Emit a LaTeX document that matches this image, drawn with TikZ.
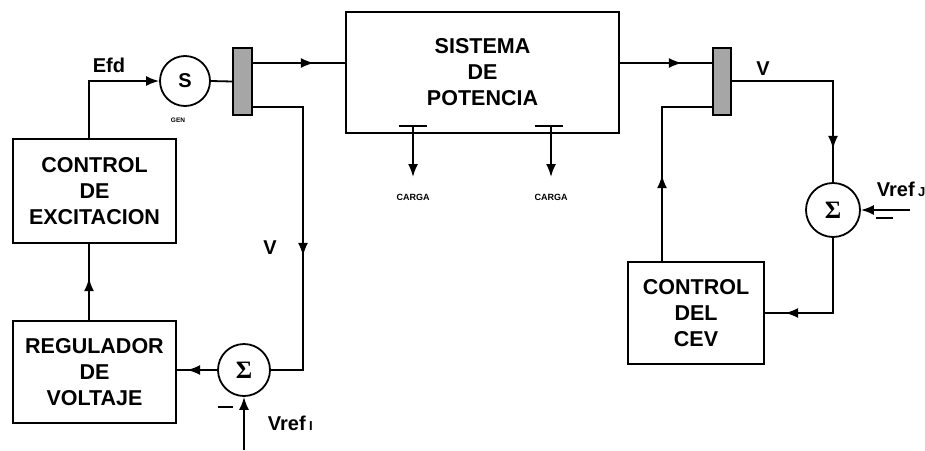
\documentclass[tikz,border=0pt]{standalone}
\usepackage{fontspec}
\setmainfont{Liberation Sans}
\newfontfamily\sigfont{Liberation Serif}
\usetikzlibrary{arrows.meta,decorations.markings}
\begin{document}
\begin{tikzpicture}[x=1pt,y=-1pt,
  line width=1.8pt,
  blk/.style={draw, rectangle, inner sep=0pt, align=center, font=\fontsize{21.5}{26}\selectfont\bfseries},
  busbar/.style={draw, fill=black!35, rectangle, inner sep=0pt, minimum width=19pt, minimum height=67pt},
  sumc/.style={draw, circle, inner sep=0pt, minimum size=52pt, font=\sigfont\fontsize{25}{25}\selectfont\bfseries},
  tipend/.style={-{Latex[length=13pt,width=10pt]}},
  midarr/.style={postaction={decorate}, decoration={markings, mark=at position #1 with {\arrow{Latex[length=13pt,width=10pt]}}}},
  lbl/.style={font=\fontsize{20}{20}\selectfont\bfseries, inner sep=0pt},
  tiny/.style={font=\fontsize{7}{7}\selectfont\bfseries, inner sep=0pt},
]
\useasboundingbox (0,0) rectangle (925,450);

% blocks
\node[blk, minimum width=163pt, minimum height=104pt] (exc) at (94.5,191) {CONTROL\\DE\\EXCITACION};
\node[blk, minimum width=163pt, minimum height=102pt] (reg) at (94.5,372) {REGULADOR\\DE\\VOLTAJE};
\node[blk, minimum width=273pt, minimum height=121pt] (sys) at (482.5,72.5) {SISTEMA\\DE\\POTENCIA};
\node[blk, minimum width=136pt, minimum height=102pt] (cev) at (696,313) {CONTROL\\DEL\\CEV};

% generator, buses, summers
\node[draw, circle, inner sep=0pt, minimum size=50pt, font=\fontsize{20}{20}\selectfont\bfseries] (gen) at (185,81) {S};
\node[busbar] (bus1) at (242.5,81.5) {};
\node[busbar, minimum width=18pt] (bus2) at (722,81.5) {};
\node[sumc] (sum1) at (244,370) {Σ};
\node[sumc, minimum size=54pt] (sum2) at (833,210) {Σ};

% labels
\node[lbl] (efd) at (109,65) {Efd};
\node[tiny, font=\fontsize{6.5}{6.5}\selectfont\bfseries] (genl) at (178,120) {GEN};
\node[lbl] (v1) at (270,248) {V};
\node[lbl] (v2) at (763,69) {V};
\node[lbl, anchor=west] (vr1) at (267,423) {Vref\,{\fontsize{13}{13}\selectfont I}};
\node[lbl, anchor=west] (vr2) at (876,189) {Vref\,{\fontsize{13}{13}\selectfont J}};
\node[tiny, font=\fontsize{9}{9}\selectfont\bfseries] (cg1) at (413,197) {CARGA};
\node[tiny, font=\fontsize{9}{9}\selectfont\bfseries] (cg2) at (551,197) {CARGA};

% helper coordinates
\coordinate (c1) at (303,370);
\coordinate (vin1) at (244,450);
\coordinate (vin2) at (910,210);
\coordinate (ld1) at (413,126);
\coordinate (ld2) at (551,126);
\coordinate (ld1e) at (413,177);
\coordinate (ld2e) at (551,177);

% connectors
\draw[tipend] ([xshift=-5.5pt]exc.north) |- (gen.west);
\draw (gen.east) -- (bus1.west);
\draw[midarr=61pt] (bus1.east |- 0,63) -- (sys.west |- 0,63);
\draw[midarr=199pt] (bus1.east |- 0,107) -| (c1) -- (sum1.east);
\draw[midarr=30pt] (sum1.west) -- (reg.east |- sum1.west);
\draw[midarr=42pt] ([xshift=-5.5pt]reg.north) -- ([xshift=-5.5pt]exc.south);
\draw[tipend] (vin1) -- (sum1.south);
\draw (218,407) -- (233,407);

\draw[midarr=62pt] (sys.east |- 0,63) -- (bus2.west |- 0,63);
\draw[midarr=169pt] (bus2.east |- 0,81) -| (sum2.north);
\draw[tipend] (vin2) -- (sum2.east);
\draw (876,218) -- (893,218);
\draw[midarr=123pt] (sum2.south) |- (cev.east);
\draw[midarr=86pt] (cev.north -| 662,0) |- (bus2.west |- 0,107);

% loads
\draw (399,126) -- (427,126);
\draw (535,126) -- (563,126);
\draw[tipend] (ld1) -- (ld1e);
\draw[tipend] (ld2) -- (ld2e);
\end{tikzpicture}
\end{document}
